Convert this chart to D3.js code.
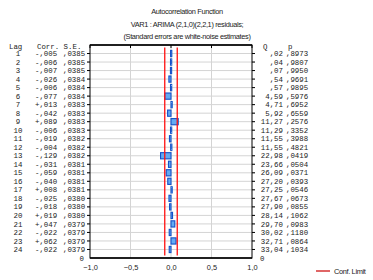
<!DOCTYPE html>
<html>
<head>
<meta charset="utf-8">
<script src="https://cdn.jsdelivr.net/npm/d3@7"></script>
<style>
body { margin: 0; background: #fff; }
svg text { fill: #222; }
.tbl { font-family: "Liberation Mono", "DejaVu Sans Mono", monospace; font-size: 7.4px; fill: #555; }
.ttl { font-family: "Liberation Sans", Arial, sans-serif; font-size: 7.4px; letter-spacing: -0.35px; }
.axis text { font-family: "Liberation Sans", Arial, sans-serif; font-size: 7.4px; fill: #222; }
</style>
</head>
<body>
<svg width="373" height="280"></svg>
<script>
const lags = d3.range(1, 25);
const corr = [-0.005, -0.006, -0.007, -0.026, -0.006, -0.077, 0.013, -0.042, 0.089, -0.006, -0.019, -0.004,
  -0.129, -0.031, -0.059, -0.040, 0.008, -0.025, -0.018, 0.019, 0.047, -0.022, 0.062, -0.022];
const se = [".0385", ".0385", ".0385", ".0384", ".0384", ".0384", ".0383", ".0383", ".0383", ".0383", ".0382", ".0382",
  ".0382", ".0381", ".0381", ".0381", ".0381", ".0380", ".0380", ".0380", ".0379", ".0379", ".0379", ".0379"];
const qStat = ["0.02", "0.04", "0.07", "0.54", "0.57", "4.59", "4.71", "5.92", "11.27", "11.29", "11.55", "11.55",
  "22.98", "23.66", "26.09", "27.20", "27.25", "27.67", "27.90", "28.14", "29.70", "30.02", "32.71", "33.04"];
const pVal = [".8973", ".9807", ".9950", ".9691", ".9895", ".5976", ".6952", ".6559", ".2576", ".3352", ".3988", ".4821",
  ".0419", ".0504", ".0371", ".0393", ".0546", ".0673", ".0855", ".1062", ".0983", ".1180", ".0864", ".1034"];
const xTicks = [-1, -0.5, 0, 0.5, 1];
const confLimit = 0.0771;

const svg = d3.select("svg");
const margin = { top: 45, right: 121, bottom: 22, left: 90 };
const width = 373 - margin.left - margin.right;
const height = 280 - margin.top - margin.bottom;
const comma = s => s.replace(".", ",");

// titles
const titles = ["Autocorrelation Function", "VAR1    : ARIMA (2,1,0)(2,2,1) residuals;", "(Standard errors are white-noise estimates)"];
svg.selectAll(".ttl").data(titles).enter().append("text")
  .attr("class", "ttl")
  .attr("x", 187).attr("y", (d, i) => 14 + i * 12.5)
  .attr("text-anchor", "middle")
  .text(d => d);

const g = svg.append("g").attr("transform", `translate(${margin.left}, ${margin.top})`);

const x = d3.scaleLinear().domain([-1, 1]).range([0, width]);
const y = d3.scaleLinear().domain([0, 25]).range([0, height]);

// grid
g.selectAll(".hgrid").data(lags).enter().append("line")
  .attr("x1", -3).attr("x2", width + 3)
  .attr("y1", d => y(d)).attr("y2", d => y(d))
  .attr("stroke", "#d4d4d4").attr("stroke-width", 1);
g.selectAll(".vgrid").data(xTicks.slice(1, -1)).enter().append("line")
  .attr("x1", d => x(d)).attr("x2", d => x(d))
  .attr("y1", 0).attr("y2", height)
  .attr("stroke", "#d4d4d4").attr("stroke-width", 1);
// small ticks on frame
g.selectAll(".lt").data(lags).enter().append("line")
  .attr("x1", -3).attr("x2", 0).attr("y1", d => y(d)).attr("y2", d => y(d)).attr("stroke", "#000");
g.selectAll(".rt").data(lags).enter().append("line")
  .attr("x1", width).attr("x2", width + 3).attr("y1", d => y(d)).attr("y2", d => y(d)).attr("stroke", "#000");
g.selectAll(".tt").data(xTicks).enter().append("line")
  .attr("x1", d => x(d)).attr("x2", d => x(d)).attr("y1", 0).attr("y2", 3).attr("stroke", "#000");

// bars
const bh = 6.2;
g.selectAll(".bar").data(corr).enter().append("rect")
  .attr("x", d => x(Math.min(0, d)))
  .attr("y", (d, i) => y(lags[i]) - bh / 2)
  .attr("width", d => Math.max(1.2, Math.abs(x(d) - x(0))))
  .attr("height", bh)
  .attr("fill", "#62aaf2")
  .attr("stroke", "#1550c8")
  .attr("stroke-width", 1.1);

// confidence limits
[-confLimit, confLimit].forEach(c => {
  g.append("line")
    .attr("x1", x(c)).attr("x2", x(c))
    .attr("y1", y(0.3)).attr("y2", y(24.7))
    .attr("stroke", "#ff1010").attr("stroke-width", 1.3);
});

// frame
g.append("rect").attr("width", width).attr("height", height)
  .attr("fill", "none").attr("stroke", "#000").attr("stroke-width", 1);
g.append("line").attr("x1", 0).attr("x2", width).attr("y1", 0).attr("y2", 0)
  .attr("stroke", "#000").attr("stroke-width", 1.5);
g.append("line").attr("x1", 0).attr("x2", width).attr("y1", height).attr("y2", height)
  .attr("stroke", "#000").attr("stroke-width", 1.5);

// x axis
g.append("g").attr("class", "axis")
  .attr("transform", `translate(0, ${height})`)
  .call(d3.axisBottom(x).tickValues(xTicks).tickSize(0).tickPadding(7)
    .tickFormat(d => comma(d3.format(".1f")(d))))
  .call(a => a.select(".domain").remove());

// table left
const tbl = svg.append("g").attr("class", "tbl");
const rowY = d => margin.top + y(d) + 2.6;
tbl.append("text").attr("x", 9).attr("y", 49).text("Lag");
tbl.append("text").attr("x", 37).attr("y", 49).text("Corr. S.E.");
tbl.selectAll(".lag").data(lags).enter().append("text")
  .attr("x", 18).attr("y", d => rowY(d)).attr("text-anchor", "middle").text(d => d);
tbl.selectAll(".corr").data(corr).enter().append("text")
  .attr("x", 35).attr("y", (d, i) => rowY(lags[i]))
  .text(d => (d < 0 ? "-" : "+") + comma(d3.format(".3f")(Math.abs(d)).slice(1)));
tbl.selectAll(".se").data(se).enter().append("text")
  .attr("x", 63).attr("y", (d, i) => rowY(lags[i])).text(d => comma(d));
tbl.append("text").attr("x", 84).attr("y", margin.top + height + 2.6).attr("text-anchor", "end").text("0");

// table right
tbl.append("text").attr("x", 263).attr("y", 49).text("Q");
tbl.append("text").attr("x", 288).attr("y", 49).text("p");
tbl.selectAll(".q").data(qStat).enter().append("text")
  .attr("x", 283).attr("y", (d, i) => rowY(lags[i])).attr("text-anchor", "end")
  .text(d => comma(d.startsWith("0") ? d.slice(1) : d));
tbl.selectAll(".p").data(pVal).enter().append("text")
  .attr("x", 286).attr("y", (d, i) => rowY(lags[i])).text(d => comma(d));
tbl.append("text").attr("x", 260).attr("y", margin.top + height + 2.6).text("0");

// legend
svg.append("line").attr("x1", 316).attr("x2", 330).attr("y1", 271).attr("y2", 271)
  .attr("stroke", "#cc0000").attr("stroke-width", 1.2);
svg.append("text").attr("class", "ttl").attr("x", 334).attr("y", 274).text("Conf. Limit");
</script>
</body>
</html>
